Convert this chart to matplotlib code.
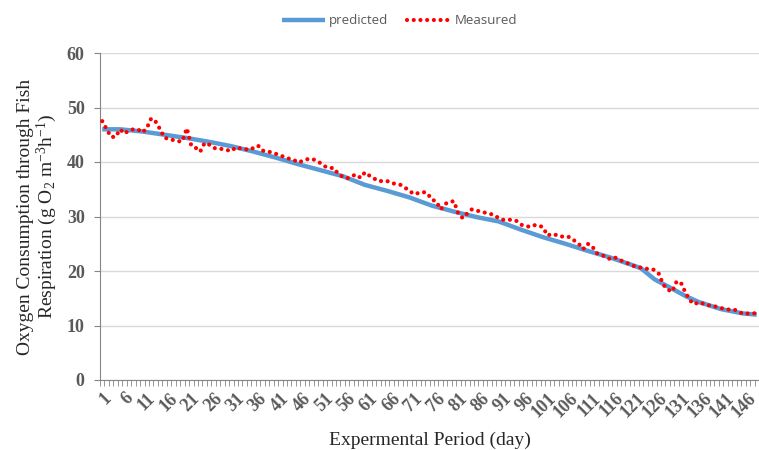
import numpy as np
import matplotlib.pyplot as plt

days = list(range(1, 149))

measured = [
    47.5, 46.0, 44.6, 44.6, 46.0, 45.2, 45.8, 46.0, 46.0, 45.4,
    46.2, 48.0, 47.4, 46.0, 44.4, 44.3, 44.0, 43.8, 43.8, 46.2,
    43.0, 42.6, 41.9, 43.5, 43.2, 42.6, 42.4, 42.4, 42.2, 42.0,
    42.7, 42.5, 42.4, 42.2, 42.6, 43.0, 42.1, 41.9, 41.8, 41.5,
    41.2, 40.9, 40.6, 40.4, 39.9, 40.2, 40.5, 40.6, 40.3, 39.8,
    39.2, 38.9, 38.9, 37.8, 37.3, 37.0, 37.4, 37.7, 37.1, 38.1,
    37.5, 37.0, 36.5, 36.5, 36.5, 36.1, 36.0, 35.8, 35.3, 34.7,
    34.1, 34.3, 34.5, 34.3, 33.1, 32.8, 31.3, 32.3, 32.7, 32.8,
    30.4, 29.7, 30.6, 31.3, 31.1, 30.9, 30.7, 30.5, 30.3, 29.7,
    29.4, 29.4, 29.4, 29.2, 28.5, 28.3, 28.1, 28.4, 28.4, 28.0,
    26.5, 26.8, 26.6, 26.3, 26.4, 26.2, 25.6, 25.0, 24.0, 25.0,
    24.6, 23.3, 22.9, 22.7, 22.2, 22.5, 22.2, 21.7, 21.4, 21.0,
    20.8, 20.6, 20.4, 20.4, 20.2, 19.5, 17.5, 16.6, 16.2, 18.1,
    17.8, 16.0, 14.6, 13.9, 14.3, 14.0, 13.7, 13.7, 13.4, 13.2,
    13.0, 12.9, 12.9, 12.5, 12.1, 12.2, 12.2, 12.3,
]

pred_days = [1, 5, 10, 15, 20, 25, 30, 35, 40, 45, 50, 55, 60, 65, 70, 75,
             80, 85, 90, 95, 100, 105, 110, 115, 120, 122, 125, 130, 132,
             135, 140, 145, 148]
predicted = [46.0, 46.0, 45.6, 45.0, 44.4, 43.7, 42.9, 41.9, 40.8, 39.6,
             38.5, 37.4, 35.8, 34.7, 33.5, 32.0, 30.9, 29.9, 29.1, 27.6,
             26.2, 25.0, 23.7, 22.5, 21.1, 20.5, 18.5, 16.3, 15.4, 14.3,
             13.0, 12.2, 12.0]

label_days = list(range(1, 147, 5))

gray = '#595959'

plt.rcParams['mathtext.fontset'] = 'custom'
plt.rcParams['mathtext.rm'] = 'Liberation Serif'
plt.rcParams['mathtext.it'] = 'Liberation Serif:italic'
plt.rcParams['mathtext.bf'] = 'Liberation Serif:bold'

fig = plt.figure(figsize=(7.59, 4.5), dpi=100)
ax = fig.add_axes([100 / 759, 70 / 450, 659 / 759, 327 / 450])

ax.plot(pred_days, predicted, color='#5b9bd5', lw=3.2, label='predicted',
        solid_capstyle='butt', zorder=3)
ax.plot(days, measured, color='#ff0000', lw=3, ls=(0, (0.01, 1.6)),
        dash_capstyle='round', label='Measured', zorder=4)

ax.set_xlim(0.5, 148.5)
ax.set_ylim(0, 60)
ax.set_yticks(range(0, 61, 10))
ax.yaxis.grid(True, color='#d9d9d9', lw=1)
ax.set_axisbelow(True)

for s in ['top', 'right']:
    ax.spines[s].set_visible(False)
for s in ['left', 'bottom']:
    ax.spines[s].set_color('#868686')

ax.set_xticks(label_days)
ax.set_xticks(np.arange(0.5, 149, 1), minor=True)
ax.tick_params(axis='x', which='major', length=0, pad=7)
ax.tick_params(axis='x', which='minor', length=4, color='#868686')
ax.tick_params(axis='y', length=4, color='#868686', pad=7)

for t in ax.get_yticklabels():
    t.set_fontfamily('Liberation Serif')
    t.set_fontweight('bold')
    t.set_fontsize(13)
    t.set_color(gray)

ax.set_xticklabels([str(d) for d in label_days], rotation=45, ha='right',
                   va='top', rotation_mode='anchor',
                   fontfamily='Liberation Serif', fontweight='bold',
                   fontsize=13, color=gray)

ax.set_ylabel('Oxygen Consumption through Fish\n'
              'Respiration (g O$_2$ m$^{-3}$h$^{-1}$)',
              fontfamily='Liberation Serif', fontsize=14, color='#262626',
              labelpad=6, linespacing=1.0)
ax.set_xlabel('Expermental Period (day)', fontfamily='Liberation Serif',
              fontsize=14, color='#262626', labelpad=8)

leg = fig.legend(loc='upper center', bbox_to_anchor=(0.526, 0.995), ncol=2,
                 frameon=False, handlelength=3.3, handletextpad=0.3,
                 columnspacing=1.4,
                 prop={'family': 'Open Sans', 'size': 9.5})
for t in leg.get_texts():
    t.set_color(gray)

fig.savefig('out.png', dpi=100)
